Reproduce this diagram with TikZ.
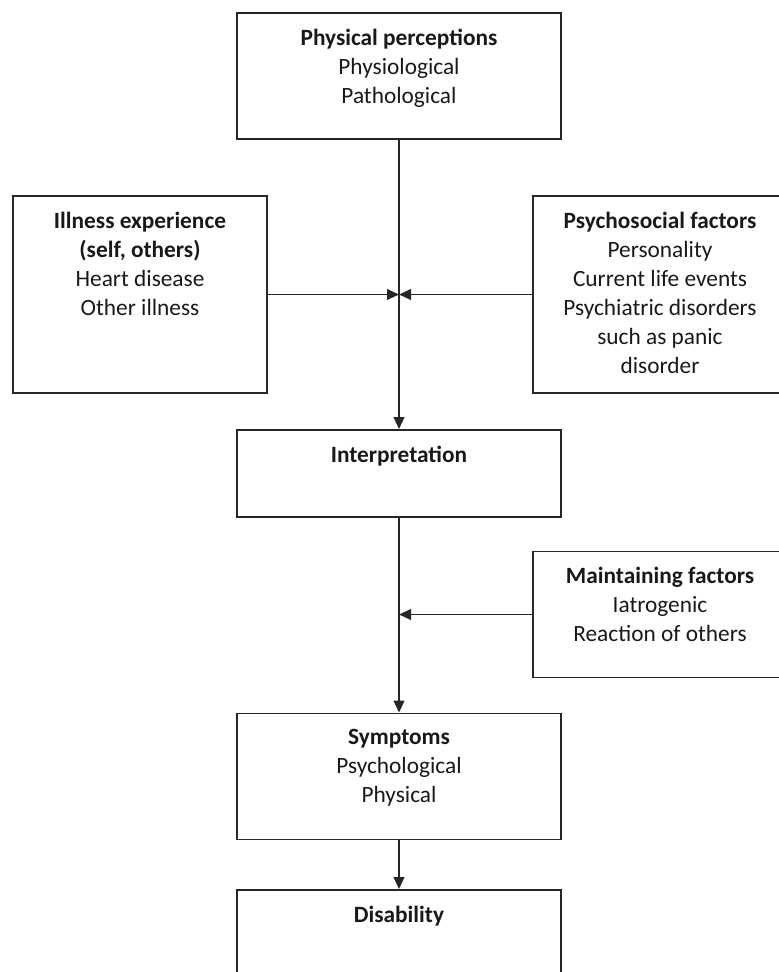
\documentclass[tikz,border=0pt]{standalone}
\usepackage{fontspec}
\setmainfont{Carlito}
\usetikzlibrary{arrows.meta, positioning}

\begin{document}
\begin{tikzpicture}[
  x=0.75pt, y=-0.75pt,
  box/.style={draw=black!85, line width=1.4pt, minimum width=243pt, minimum height=94.5pt, inner sep=0pt},
  sidebox/.style={box, minimum width=190.5pt},
  txt/.style={align=center, inner sep=0pt, text=black!90, font=\fontsize{17.5}{21.75}\selectfont},
  >={Triangle[length=9pt, width=8pt]},
  link/.style={draw=black!85, line width=1.4pt, ->}
]
  \useasboundingbox (0,0) rectangle (779,972);
  \clip (0,0) rectangle (779,972);

  \node[box] (phys) at (399,76) {};
  \node[sidebox, minimum height=147.75pt] (ill) at (140,294.5) {};
  \node[sidebox, minimum height=147.75pt] (psy) at (660,294.5) {};
  \node[box, minimum height=65.25pt] (interp) at (399,473.5) {};
  \node[sidebox] (maint) at (660,614.5) {};
  \node[box] (sym) at (399,776.5) {};
  \node[box] (dis) at (399,953) {};

  \node[txt, below=12.5pt of phys.north] (physt) {\textbf{Physical perceptions}\\Physiological\\Pathological};
  \node[txt, below=12.5pt of ill.north] (illt) {\textbf{Illness experience}\\\textbf{(self, others)}\\Heart disease\\Other illness};
  \node[txt, below=12.5pt of psy.north] (psyt) {\textbf{Psychosocial factors}\\Personality\\Current life events\\Psychiatric disorders\\such as panic\\disorder};
  \node[txt, below=12.5pt of interp.north] (interpt) {\textbf{Interpretation}};
  \node[txt, below=12.5pt of maint.north] (maintt) {\textbf{Maintaining factors}\\Iatrogenic\\Reaction of others};
  \node[txt, below=12.5pt of sym.north] (symt) {\textbf{Symptoms}\\Psychological\\Physical};
  \node[txt, below=12.5pt of dis.north] (dist) {\textbf{Disability}};

  \coordinate (meet) at (phys.south |- ill.east);
  \coordinate (keep) at (interp.south |- maint.west);

  \draw[link] (phys) -- (interp);
  \draw[link] (ill) -- (meet);
  \draw[link] (psy) -- (meet);
  \draw[link] (interp) -- (sym);
  \draw[link] (maint) -- (keep);
  \draw[link] (sym) -- (dis);
\end{tikzpicture}
\end{document}
